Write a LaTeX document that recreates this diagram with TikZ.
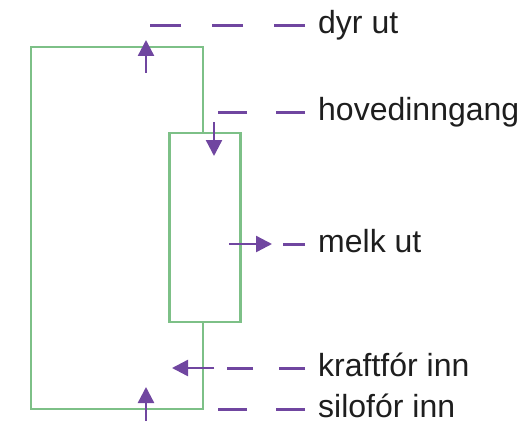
\documentclass[tikz,border=0pt]{standalone}
\usepackage{fontspec}
\setmainfont{Liberation Sans}
\usepackage{xcolor}
\usetikzlibrary{arrows.meta,positioning}

\definecolor{penpurple}{RGB}{112,70,160}
\definecolor{wallgreen}{RGB}{125,192,135}
\definecolor{labelink}{RGB}{30,30,30}

\begin{document}
\begin{tikzpicture}[
    x=1pt, y=-1pt,
    lbl/.style={anchor=base west, inner sep=0pt, font=\fontsize{32}{32}\selectfont, text=labelink},
    wall/.style={draw=wallgreen, line width=2.4pt},
    flow/.style={-{Triangle[length=16pt, width=16pt]}, draw=penpurple, fill=penpurple, line width=2.4pt},
    lead/.style={draw=penpurple, line width=3pt, dash pattern=on #1 off #1}
]
\useasboundingbox (0,0) rectangle (526,425);

% Building
\node[wall, rectangle, minimum width=71pt, minimum height=189pt, inner sep=0pt] (parlor) at (205,227.5) {};
\coordinate (gate) at (203,0);
\draw[wall] (gate |- parlor.north) -- (203,47) -- (31,47) -- (31,409) -- (203,409) -- (gate |- parlor.south);

% Labels
\node[lbl] (dyr) at (318,34) {dyr ut};
\node[lbl] (hoved) at (318,120) {hovedinngang};
\node[lbl] (melk) at (318,252) {melk ut};
\node[lbl] (kraft) at (318,376) {kraftfór inn};
\node[lbl] (silo) at (318,417) {silofór inn};

% Leader ends
\coordinate (dyr-a) at (305,26);   \coordinate (dyr-b) at (149,26);
\coordinate (hoved-a) at (305,112); \coordinate (hoved-b) at (217,112);
\coordinate (melk-a) at (305,244); \coordinate (melk-b) at (283,244);
\coordinate (kraft-a) at (305,368); \coordinate (kraft-b) at (227,368);
\coordinate (silo-a) at (305,409); \coordinate (silo-b) at (217,409);

% Leaders
\draw[lead=31pt] (dyr-a) -- (dyr-b);
\draw[lead=29pt] (hoved-a) -- (hoved-b);
\draw[lead=22pt] (melk-a) -- (melk-b);
\draw[lead=26pt] (kraft-a) -- (kraft-b);
\draw[lead=29pt] (silo-a) -- (silo-b);

% Flow arrows
\coordinate (out-s) at (146,73);   \coordinate (out-e) at (146,40);
\coordinate (main-s) at (214,122); \coordinate (main-e) at (214,156);
\coordinate (milk-s) at (229,244); \coordinate (milk-e) at (272,244);
\coordinate (conc-s) at (214,368); \coordinate (conc-e) at (172,368);
\coordinate (sil-s) at (146,421);  \coordinate (sil-e) at (146,387);

\draw[flow] (out-s) -- (out-e);
\draw[flow] (main-s) -- (main-e);
\draw[flow] (milk-s) -- (milk-e);
\draw[flow] (conc-s) -- (conc-e);
\draw[flow] (sil-s) -- (sil-e);

\end{tikzpicture}
\end{document}
